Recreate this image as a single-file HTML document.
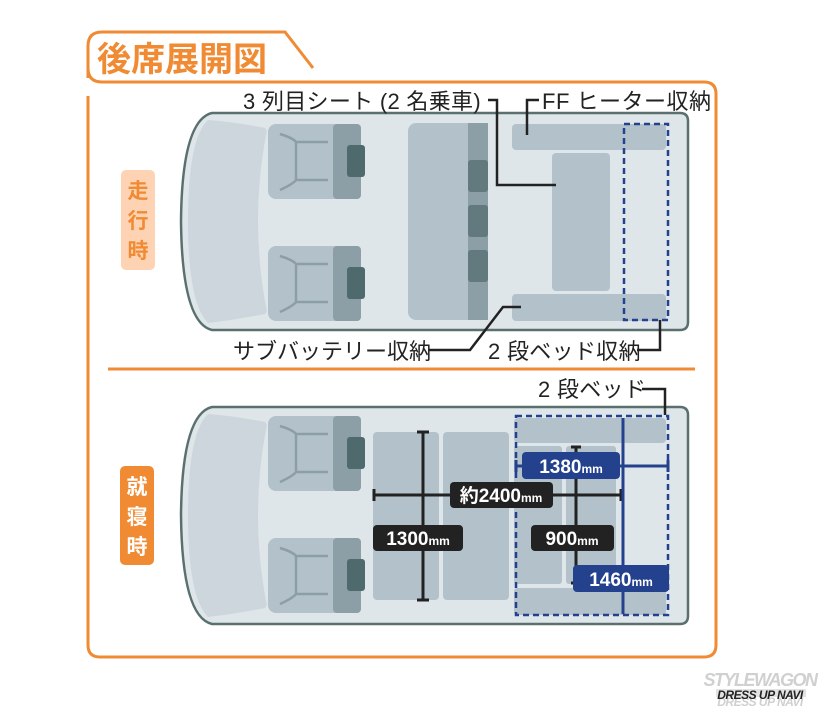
<!DOCTYPE html>
<html><head><meta charset="utf-8"><style>
html,body{margin:0;padding:0;background:#fff;}
svg{display:block;}
text{font-family:"Liberation Sans","Noto Sans CJK JP",sans-serif;}
</style></head><body>
<svg width="825" height="717" viewBox="0 0 825 717" xmlns="http://www.w3.org/2000/svg">
<defs>
<g id="seat">
  <rect x="0" y="0" width="93" height="75" rx="8" fill="#b3c2ca"/>
  <rect x="65" y="0" width="28" height="75" rx="4" fill="#8c9ea6"/>
  <rect x="79" y="21" width="18" height="32" rx="3" fill="#4f6a6c"/>
  <path d="M12 10 Q25 14 28 18 L28 56 Q25 60 12 66 M28 18 L60 18 M28 56 L60 56" fill="none" stroke="#8c9ea6" stroke-width="2.5"/>
</g>
<g id="van">
  <path d="M32 0 L500 0 Q508 0 508 8 L508 209 Q508 217 500 217 L32 217 Q2 210 1 108 Q2 7 32 0 Z" fill="#dfe6ea" stroke="#5a706f" stroke-width="2.5"/>
  <path d="M28 7 Q55 9 85 15 Q88 18 86 22 Q70 108 86 194 Q88 198 85 201 Q55 207 28 210 Q8 190 8 108 Q8 26 28 7 Z" fill="#cdd6dd"/>
</g>
</defs>

<!-- frame -->
<path d="M88 78 L88 46 Q88 32 102 32 L285 32 L313 68" fill="none" stroke="#f08a33" stroke-width="3"/>
<path d="M88 68 Q88 82 102 82 L704 82 Q716 82 716 94 L716 645 Q716 657 704 657 L100 657 Q88 657 88 645 L88 96" fill="none" stroke="#f08a33" stroke-width="3"/>
<text x="97" y="71" font-size="34" font-weight="bold" fill="#f08a33">後席展開図</text>
<line x1="108" y1="369" x2="695" y2="369" stroke="#f08a33" stroke-width="3"/>

<rect x="121" y="170" width="34" height="100" rx="5" fill="#fdd3b3"/>
<text x="138" y="198" font-size="21" font-weight="bold" fill="#f08a33" text-anchor="middle">走</text>
<text x="138" y="228" font-size="21" font-weight="bold" fill="#f08a33" text-anchor="middle">行</text>
<text x="138" y="258" font-size="21" font-weight="bold" fill="#f08a33" text-anchor="middle">時</text>
<rect x="120" y="466" width="34" height="99" rx="5" fill="#f08a33"/>
<text x="137" y="494" font-size="21" font-weight="bold" fill="#fff" text-anchor="middle">就</text>
<text x="137" y="524" font-size="21" font-weight="bold" fill="#fff" text-anchor="middle">寝</text>
<text x="137" y="554" font-size="21" font-weight="bold" fill="#fff" text-anchor="middle">時</text>

<!-- van 1 -->
<g transform="translate(180,113)"><use href="#van"/></g>
<g transform="translate(268,124)"><use href="#seat"/></g>
<g transform="translate(268,246)"><use href="#seat"/></g>
<rect x="408" y="123" width="80" height="197" rx="8" fill="#b3c2ca"/>
<rect x="468" y="123" width="20" height="197" fill="#8c9ea6"/>
<rect x="468" y="160" width="20" height="32" rx="3" fill="#627a7e"/>
<rect x="468" y="205" width="20" height="32" rx="3" fill="#627a7e"/>
<rect x="468" y="250" width="20" height="32" rx="3" fill="#627a7e"/>
<rect x="512" y="124" width="154" height="26" rx="4" fill="#b3c2ca"/>
<rect x="512" y="294" width="154" height="27" rx="4" fill="#b3c2ca"/>
<rect x="552" y="153" width="58" height="138" rx="4" fill="#b3c2ca"/>
<rect x="624" y="124" width="44" height="196" fill="none" stroke="#24418e" stroke-width="2.5" stroke-dasharray="6,4"/>

<text x="243" y="109" font-size="22" fill="#222" letter-spacing="0.3">3 列目シート (2 名乗車)</text>
<polyline points="488,100 497,100 497,185 556,185" fill="none" stroke="#222" stroke-width="2.5"/>
<text x="542" y="109" font-size="22" fill="#222" letter-spacing="0.5">FF ヒーター収納</text>
<polyline points="539,100 527,100 527,135" fill="none" stroke="#222" stroke-width="2.5"/>
<text x="233" y="359" font-size="22" fill="#222">サブバッテリー収納</text>
<polyline points="428,350 470,350 503,307 521,307" fill="none" stroke="#222" stroke-width="2.5"/>
<text x="488" y="359" font-size="22" fill="#222" letter-spacing="0.3">2 段ベッド収納</text>
<polyline points="637,350 660,350 660,320" fill="none" stroke="#222" stroke-width="2.5"/>

<!-- van 2 -->
<g transform="translate(180,407)"><use href="#van"/></g>
<g transform="translate(268,416)"><use href="#seat"/></g>
<g transform="translate(268,538)"><use href="#seat"/></g>
<rect x="373" y="432" width="66" height="168" rx="4" fill="#b3c2ca"/>
<rect x="443" y="432" width="66" height="168" rx="4" fill="#b3c2ca"/>
<rect x="514" y="418" width="152" height="25" rx="4" fill="#b3c2ca"/>
<rect x="514" y="446" width="48" height="138" rx="3" fill="#b3c2ca"/>
<rect x="566" y="446" width="50" height="138" rx="3" fill="#b3c2ca"/>
<rect x="514" y="588" width="152" height="27" rx="3" fill="#b3c2ca"/>
<rect x="516" y="416" width="152" height="199" fill="none" stroke="#24418e" stroke-width="2.5" stroke-dasharray="6,4"/>

<g stroke="#222" stroke-width="3">
<line x1="423" y1="432" x2="423" y2="600"/><line x1="417" y1="432" x2="429" y2="432"/><line x1="417" y1="600" x2="429" y2="600"/>
<line x1="374" y1="495" x2="621" y2="495"/><line x1="374" y1="489" x2="374" y2="501"/><line x1="621" y1="489" x2="621" y2="501"/>
<line x1="576" y1="447" x2="576" y2="583"/><line x1="571" y1="447" x2="581" y2="447"/><line x1="571" y1="583" x2="581" y2="583"/>
</g>
<g stroke="#24418e" stroke-width="3">
<line x1="623" y1="418" x2="623" y2="614"/>
<line x1="516" y1="466" x2="668" y2="466"/><line x1="516" y1="460" x2="516" y2="472"/><line x1="668" y1="460" x2="668" y2="472"/>
</g>
<rect x="450" y="482" width="103" height="26" rx="4" fill="#222"/>
<text x="501" y="502" font-size="19" font-weight="bold" fill="#fff" text-anchor="middle">約2400<tspan font-size="12">mm</tspan></text>
<rect x="373" y="525" width="90" height="26" rx="4" fill="#222"/>
<text x="418" y="545" font-size="19" font-weight="bold" fill="#fff" text-anchor="middle">1300<tspan font-size="12">mm</tspan></text>
<rect x="531" y="525" width="83" height="26" rx="4" fill="#222"/>
<text x="572" y="545" font-size="19" font-weight="bold" fill="#fff" text-anchor="middle">900<tspan font-size="12">mm</tspan></text>
<rect x="522" y="452" width="98" height="27" rx="4" fill="#24418e"/>
<text x="571" y="473" font-size="19" font-weight="bold" fill="#fff" text-anchor="middle">1380<tspan font-size="12">mm</tspan></text>
<rect x="573" y="565" width="96" height="27" rx="4" fill="#24418e"/>
<text x="621" y="586" font-size="19" font-weight="bold" fill="#fff" text-anchor="middle">1460<tspan font-size="12">mm</tspan></text>

<text x="538" y="397" font-size="22" fill="#222" letter-spacing="0.3">2 段ベッド</text>
<polyline points="642,389 665,389 665,415" fill="none" stroke="#222" stroke-width="2.5"/>

<!-- logo -->
<text x="760" y="686" font-size="18" font-weight="bold" font-style="italic" fill="#d0d0d0" text-anchor="middle" letter-spacing="-1.5">STYLEWAGON</text>
<rect x="716" y="689" width="90" height="8" fill="#e3e3e3"/>
<text x="760" y="706" font-size="12" font-weight="bold" font-style="italic" fill="#d0d0d0" text-anchor="middle" letter-spacing="-0.5">DRESS UP NAVI</text>
<text x="760" y="699" font-size="12" font-weight="bold" font-style="italic" fill="#222" text-anchor="middle" letter-spacing="-0.5">DRESS UP NAVI</text>
</svg>
</body></html>
